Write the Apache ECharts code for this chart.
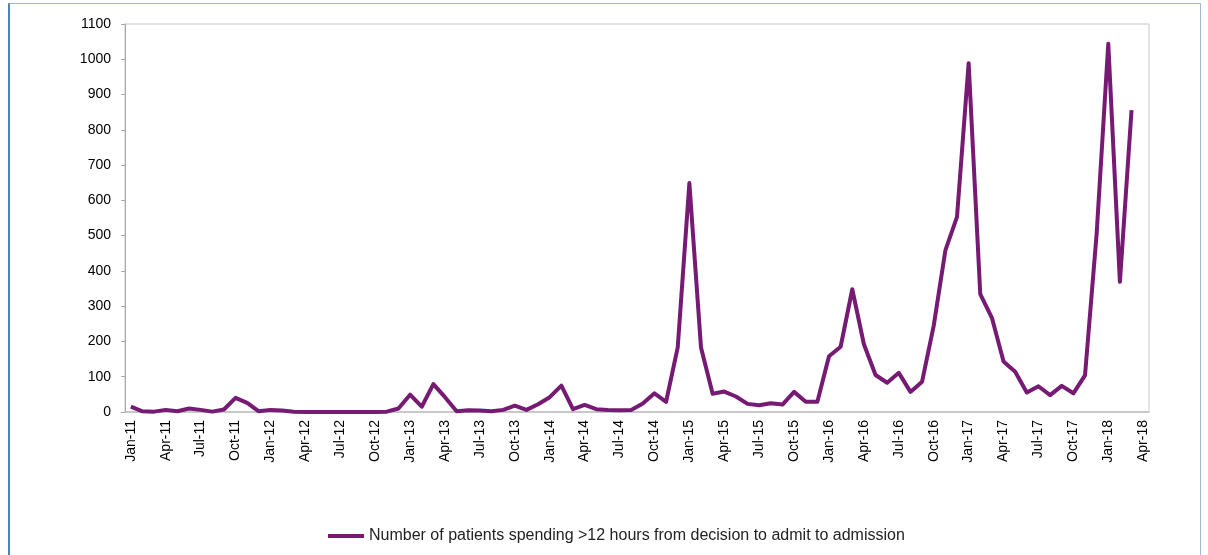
<!DOCTYPE html>
<html>
<head>
<meta charset="utf-8">
<script src="https://cdn.jsdelivr.net/npm/echarts@6/dist/echarts.min.js"></script>
<style>
  html, body { margin: 0; padding: 0; background: #fff; }
  #frame { position: absolute; left: 8px; top: 3px; width: 1190px; height: 560px;
           border-left: 2px solid #4f81bd; border-top: 1px solid #9db7d8; border-right: 1px solid #9db7d8; }
  #chart { position: absolute; left: 0; top: 0; width: 1208px; height: 555px; }
</style>
</head>
<body>
<div id="frame"></div>
<div id="chart"></div>
<script>
var years = ['11', '12', '13', '14', '15', '16', '17', '18'];
var monthNames = ['Jan', 'Feb', 'Mar', 'Apr', 'May', 'Jun', 'Jul', 'Aug', 'Sep', 'Oct', 'Nov', 'Dec'];
var months = [];
years.forEach(function (y) {
  monthNames.forEach(function (m) {
    months.push(m + '-' + y);
  });
});
months = months.slice(0, 88); // Jan-11 .. Apr-18

// patients waiting >12 hours, per month
var waits2011 = [15, 2, 1, 6, 2, 10, 6, 1, 7, 40, 26, 2];
var waits2012 = [6, 4, 1, 0, 0, 0, 0, 0, 0, 0, 1, 10];
var waits2013 = [49, 15, 79, 42, 2, 5, 4, 2, 6, 18, 6, 22];
var waits2014 = [42, 75, 8, 20, 8, 6, 5, 6, 24, 53, 29, 183];
var waits2015 = [649, 183, 52, 58, 44, 23, 19, 25, 21, 57, 29, 29];
var waits2016 = [158, 185, 348, 192, 105, 83, 111, 57, 86, 245, 458, 553];
var waits2017 = [989, 334, 267, 143, 114, 55, 73, 48, 74, 53, 104, 505];
var waits2018 = [1044, 369, 856];

var waits = [].concat(waits2011, waits2012, waits2013, waits2014,
  waits2015, waits2016, waits2017, waits2018);

var chart = echarts.init(document.getElementById('chart'));
chart.setOption({
  animation: false,
  grid: {
    left: 125,
    right: 59,
    top: 24,
    bottom: 143,
    show: true,
    borderColor: '#c8c8c8',
    borderWidth: 1
  },
  legend: {
    left: 323,
    top: 523,
    icon: 'rect',
    itemWidth: 36,
    itemHeight: 4,
    itemGap: 4,
    textStyle: {
      color: '#222',
      fontFamily: 'Liberation Sans, Arial, sans-serif',
      fontSize: 16
    }
  },
  xAxis: {
    type: 'category',
    data: months,
    boundaryGap: true,
    axisLine: {
      lineStyle: { color: '#c0c0c0', width: 1.5 }
    },
    axisTick: { show: false },
    axisLabel: {
      interval: 2,
      rotate: 90,
      margin: 8,
      color: '#000',
      fontFamily: 'Liberation Sans, Arial, sans-serif',
      fontSize: 14
    }
  },
  yAxis: {
    type: 'value',
    min: 0,
    max: 1100,
    interval: 100,
    axisLine: {
      show: true,
      lineStyle: { color: '#a8a8a8' }
    },
    axisTick: {
      show: true,
      length: 4,
      lineStyle: { color: '#a8a8a8' }
    },
    splitLine: { show: false },
    axisLabel: {
      margin: 14,
      color: '#000',
      fontFamily: 'Liberation Sans, Arial, sans-serif',
      fontSize: 14,
      formatter: function (v) { return String(v); }
    }
  },
  series: [{
    name: 'Number of patients spending >12 hours from decision to admit to admission',
    type: 'line',
    data: waits,
    showSymbol: false,
    symbol: 'none',
    lineStyle: {
      color: '#761a74',
      width: 4,
      join: 'round'
    },
    itemStyle: {
      color: '#761a74'
    }
  }]
});
</script>
</body>
</html>
